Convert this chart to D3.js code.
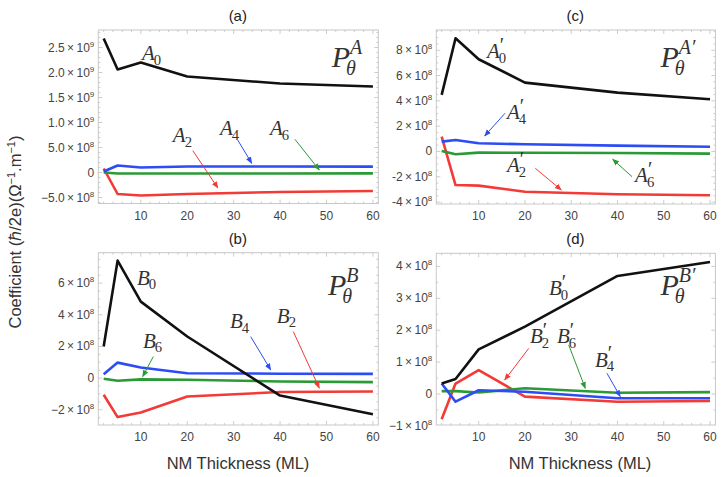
<!DOCTYPE html>
<html>
<head>
<meta charset="utf-8">
<script src="https://cdn.jsdelivr.net/npm/d3@7"></script>
<style>
  body { margin: 0; background: #fff; }
  text { font-family: "Liberation Sans", Arial, sans-serif; }
  .tick-lbl { font-size: 12px; fill: #444; }
  .math { font-family: "Liberation Serif", "DejaVu Serif", serif; fill: #333; }
</style>
</head>
<body>
<svg id="chart" width="723" height="477"></svg>
<script>
// thickness values (ML)
var thickness = [2, 5, 10, 20, 40, 60];

// panel (a)
var A0 = [2.68e9, 2.06e9, 2.20e9, 1.92e9, 1.78e9, 1.72e9];
var A2 = [0.08e9, -0.43e9, -0.46e9, -0.43e9, -0.39e9, -0.37e9];
var A4 = [0.02e9, 0.14e9, 0.10e9, 0.12e9, 0.12e9, 0.117e9];
var A6 = [0.0, -0.02e9, -0.02e9, -0.02e9, -0.02e9, -0.017e9];
// panel (c)
var Ap0 = [4.47e8, 8.95e8, 7.29e8, 5.44e8, 4.65e8, 4.13e8];
var Ap2 = [1.17e8, -2.65e8, -2.70e8, -3.18e8, -3.38e8, -3.46e8];
var Ap4 = [0.78e8, 0.91e8, 0.65e8, 0.57e8, 0.46e8, 0.38e8];
var Ap6 = [0.04e8, -0.22e8, -0.09e8, -0.10e8, -0.12e8, -0.17e8];
// panel (b)
var B0 = [2.0e8, 7.42e8, 4.83e8, 2.63e8, -1.1e8, -2.28e8];
var B2 = [-1.05e8, -2.46e8, -2.17e8, -1.16e8, -0.88e8, -0.84e8];
var B4 = [0.25e8, 0.98e8, 0.67e8, 0.31e8, 0.28e8, 0.27e8];
var B6 = [-0.04e8, -0.17e8, -0.08e8, -0.10e8, -0.21e8, -0.25e8];
// panel (d)
var Bp0 = [0.33e8, 0.47e8, 1.40e8, 2.11e8, 3.70e8, 4.14e8];
var Bp2 = [-0.79e8, 0.33e8, 0.75e8, -0.08e8, -0.24e8, -0.22e8];
var Bp4 = [0.33e8, -0.24e8, 0.12e8, 0.07e8, -0.13e8, -0.13e8];
var Bp6 = [0.09e8, 0.09e8, 0.05e8, 0.18e8, 0.04e8, 0.06e8];

// tick values
var xTicks = [10, 20, 30, 40, 50, 60];
var aTicks = [-5e8, 0, 5e8, 1e9, 1.5e9, 2e9, 2.5e9];
var cTicks = [-4e8, -2e8, 0, 2e8, 4e8, 6e8, 8e8];
var bTicks = [-2e8, 0, 2e8, 4e8, 6e8];
var dTicks = [-1e8, 0, 1e8, 2e8, 3e8, 4e8];

var colors = {black: "#111", red: "#f23a36", blue: "#2c4cf5", green: "#2a9a35"};

var svg = d3.select("#chart");

var defs = svg.append("defs");
Object.keys(colors).forEach(function(k){
    defs.append("marker")
        .attr("id", "arr-" + k)
        .attr("viewBox", "0 0 10 10")
        .attr("refX", 9).attr("refY", 5)
        .attr("markerWidth", 7).attr("markerHeight", 7)
        .attr("markerUnits", "userSpaceOnUse")
        .attr("orient", "auto")
      .append("path")
        .attr("d", "M0,1 L10,5 L0,9 z")
        .attr("fill", colors[k]);
});

var panels = [
  {title: "(a)", left: 98.3, right: 378.3, top: 30, bottom: 203.5, ydom: [-0.62e9, 2.85e9],
   yticks: aTicks, digits: 1, minus: "\u2212", yminor: 1e8,
   series: [[A2, "red"], [A6, "green"], [A4, "blue"], [A0, "black"]],
   labels: [{b: "A", s: "0", x: 10.25, y: 2.25e9}, {b: "A", s: "2", x: 16.9, y: 0.61e9},
            {b: "A", s: "4", x: 27.06, y: 0.75e9}, {b: "A", s: "6", x: 37.83, y: 0.75e9}],
   arrows: [{c: "red", p: [21.2, 0.436e9, 26.6, -0.31e9]}, {c: "blue", p: [30.87, 0.65e9, 33.9, 0.184e9]},
            {c: "green", p: [43.2, 0.664e9, 48.45, 0.05e9]}],
   P: {sup: "A", prime: false, x: 51.12, y: 2.11e9}},
  {title: "(c)", left: 436.3, right: 715.4, top: 30, bottom: 204, ydom: [-4.15e8, 9.6e8],
   yticks: cTicks, digits: 0, minus: "-", yminor: 0.5e8,
   series: [[Ap2, "red"], [Ap6, "green"], [Ap4, "blue"], [Ap0, "black"]],
   labels: [{b: "A", s: "0", p: true, x: 11.8, y: 7.39e8}, {b: "A", s: "4", p: true, x: 16.12, y: 2.57e8},
            {b: "A", s: "2", p: true, x: 16.12, y: -1.62e8}, {b: "A", s: "6", p: true, x: 43.8, y: -2.41e8}],
   arrows: [{c: "blue", p: [15.69, 3.02e8, 11.3, 1.23e8]}, {c: "red", p: [22.24, -1.33e8, 27.86, -3.04e8]},
            {c: "green", p: [43.14, -1.99e8, 38.96, -0.62e8]}],
   P: {sup: "A", prime: true, x: 49.3, y: 6.68e8}},
  {title: "(b)", left: 98.3, right: 378.3, top: 252.7, bottom: 425, ydom: [-2.96e8, 7.92e8],
   yticks: bTicks, digits: 0, minus: "\u2212", yminor: 0.5e8,
   series: [[B2, "red"], [B6, "green"], [B4, "blue"], [B0, "black"]],
   labels: [{b: "B", s: "0", x: 9.18, y: 5.89e8}, {b: "B", s: "6", x: 10.47, y: 1.91e8},
            {b: "B", s: "4", x: 29.2, y: 3.17e8}, {b: "B", s: "2", x: 39.3, y: 3.49e8}],
   arrows: [{c: "green", p: [12.69, 1.36e8, 10.4, 0.1e8]}, {c: "blue", p: [33.67, 2.62e8, 37.98, 0.52e8]},
            {c: "red", p: [42.85, 2.94e8, 48.45, -0.63e8]}],
   P: {sup: "B", prime: false, x: 50.32, y: 5.26e8}},
  {title: "(d)", left: 436.3, right: 715.4, top: 253.3, bottom: 425, ydom: [-0.97e8, 4.41e8],
   yticks: dTicks, digits: 0, minus: "\u2212", yminor: 0.5e8,
   series: [[Bp2, "red"], [Bp6, "green"], [Bp4, "blue"], [Bp0, "black"]],
   labels: [{b: "B", s: "0", p: true, x: 25.2, y: 3.1e8}, {b: "B", s: "2", p: true, x: 21.09, y: 1.59e8},
            {b: "B", s: "6", p: true, x: 26.93, y: 1.59e8}, {b: "B", s: "4", p: true, x: 35.14, y: 0.86e8}],
   arrows: [{c: "red", p: [20.81, 1.43e8, 15.62, 0.44e8]}, {c: "green", p: [29.45, 1.54e8, 33.04, 0.18e8]},
            {c: "blue", p: [37.73, 0.65e8, 40.6, -0.08e8]}],
   P: {sup: "B", prime: true, x: 49.3, y: 3.1e8}}
];

// scientific tick label with superscript exponent
function sciLabel(sel, v, digits, minus){
    if (v === 0) { sel.text("0"); return; }
    var e = Math.floor(Math.log10(Math.abs(v)) + 1e-9);
    var m = v / Math.pow(10, e);
    var ms = Math.abs(m).toFixed(digits);
    sel.append("tspan").text((v < 0 ? minus : "") + ms + "\u2009\u00d7\u200910");
    sel.append("tspan").attr("dy", -5).attr("font-size", 8).text(e);
}

// italic symbol with optional prime and a subscript, all in one text element
function mathSym(g, x, y, d, size){
    var t = g.append("text").attr("class", "math")
        .attr("x", x).attr("y", y).attr("font-size", size);
    t.append("tspan").attr("font-style", "italic").text(d.b);
    var pw = 0;
    if (d.p) {
        var pr = t.append("tspan").attr("dy", -size * 0.3).attr("font-size", size * 0.95).text("\u2032");
        pw = pr.node().getComputedTextLength();
    }
    t.append("tspan")
        .attr("dx", -pw - 1)
        .attr("dy", d.p ? size * 0.52 : size * 0.22)
        .attr("font-size", size * 0.7).text(d.s);
}

panels.forEach(function(p){
    var x = d3.scaleLinear().domain([0.84, 61.16]).range([p.left, p.right]);
    var y = d3.scaleLinear().domain(p.ydom).range([p.bottom, p.top]);
    var g = svg.append("g");

    // frame
    g.append("rect")
        .attr("x", p.left).attr("y", p.top)
        .attr("width", p.right - p.left).attr("height", p.bottom - p.top)
        .attr("fill", "none").attr("stroke", "#c8c8c8").attr("stroke-width", 1);

    // ticks (inside, on all four sides)
    var xMinor = d3.range(2, 61, 2);
    var yMinor = d3.range(Math.ceil(p.ydom[0] / p.yminor), Math.floor(p.ydom[1] / p.yminor) + 1)
                   .map(function(k){ return k * p.yminor; });
    var tk = g.append("g").attr("stroke", "#c0c0c0").attr("stroke-width", 0.8);
    xMinor.forEach(function(v){
        var len = v % 10 === 0 ? 4 : 2;
        tk.append("line").attr("x1", x(v)).attr("x2", x(v)).attr("y1", p.bottom).attr("y2", p.bottom - len);
        tk.append("line").attr("x1", x(v)).attr("x2", x(v)).attr("y1", p.top).attr("y2", p.top + len);
    });
    yMinor.forEach(function(v){
        var major = p.yticks.some(function(t){ return Math.abs(t - v) < 1; });
        var len = major ? 4 : 2;
        tk.append("line").attr("y1", y(v)).attr("y2", y(v)).attr("x1", p.left).attr("x2", p.left + len);
        tk.append("line").attr("y1", y(v)).attr("y2", y(v)).attr("x1", p.right).attr("x2", p.right - len);
    });

    // tick labels
    g.selectAll(".xl").data(xTicks).enter().append("text")
        .attr("class", "tick-lbl")
        .attr("x", d => x(d)).attr("y", p.bottom + 16)
        .attr("text-anchor", "middle").attr("font-size", 13)
        .text(d => d);
    g.selectAll(".yl").data(p.yticks).enter().append("text")
        .attr("class", "tick-lbl")
        .attr("x", p.left - 4).attr("y", d => y(d) + 4)
        .attr("text-anchor", "end")
        .each(function(d){ sciLabel(d3.select(this), d, p.digits, p.minus); });

    // title
    svg.append("text")
        .attr("x", (p.left + p.right) / 2 - 0.5).attr("y", p.top - 9)
        .attr("text-anchor", "middle").attr("font-size", 15).attr("fill", "#222")
        .text(p.title);

    // lines
    var line = d3.line().x((d, i) => x(thickness[i])).y(d => y(d));
    p.series.forEach(function(s){
        g.append("path")
            .attr("d", line(s[0]))
            .attr("fill", "none")
            .attr("stroke", colors[s[1]])
            .attr("stroke-width", 2.6)
            .attr("stroke-linejoin", "round");
    });

    // arrows
    p.arrows.forEach(function(a){
        g.append("line")
            .attr("x1", x(a.p[0])).attr("y1", y(a.p[1]))
            .attr("x2", x(a.p[2])).attr("y2", y(a.p[3]))
            .attr("stroke", colors[a.c]).attr("stroke-width", 1)
            .attr("marker-end", "url(#arr-" + a.c + ")");
    });

    // curve labels
    p.labels.forEach(function(l){
        mathSym(g, x(l.x), y(l.y), l, 21);
    });

    // P_theta label, one text element with super/subscript tspans
    var pt = g.append("text").attr("class", "math")
        .attr("x", x(p.P.x)).attr("y", y(p.P.y)).attr("font-style", "italic");
    pt.append("tspan").attr("font-size", 30).text("P");
    var sup = pt.append("tspan").attr("font-size", 20).attr("dy", -13)
        .text(p.P.sup + (p.P.prime ? "\u2032" : ""));
    var sw = sup.node().getComputedTextLength();
    pt.append("tspan").attr("font-size", 20).attr("dx", -sw - 4).attr("dy", 21).text("\u03b8");
});

// axis titles
svg.append("text")
    .attr("x", 238).attr("y", 469)
    .attr("text-anchor", "middle").attr("font-size", 16.5).attr("fill", "#333")
    .text("NM Thickness (ML)");
svg.append("text")
    .attr("x", 580).attr("y", 469)
    .attr("text-anchor", "middle").attr("font-size", 16.5).attr("fill", "#333")
    .text("NM Thickness (ML)");

var yl = svg.append("text")
    .attr("transform", "translate(21,232) rotate(-90)")
    .attr("text-anchor", "middle").attr("font-size", 16.5).attr("fill", "#333");
yl.append("tspan").text("Coefficient (\u210f/2e)(\u03a9");
yl.append("tspan").attr("dy", -6).attr("font-size", 11).text("\u22121");
yl.append("tspan").attr("dy", 6).text(".m");
yl.append("tspan").attr("dy", -6).attr("font-size", 11).text("\u22121");
yl.append("tspan").attr("dy", 6).text(")");
</script>
</body>
</html>
